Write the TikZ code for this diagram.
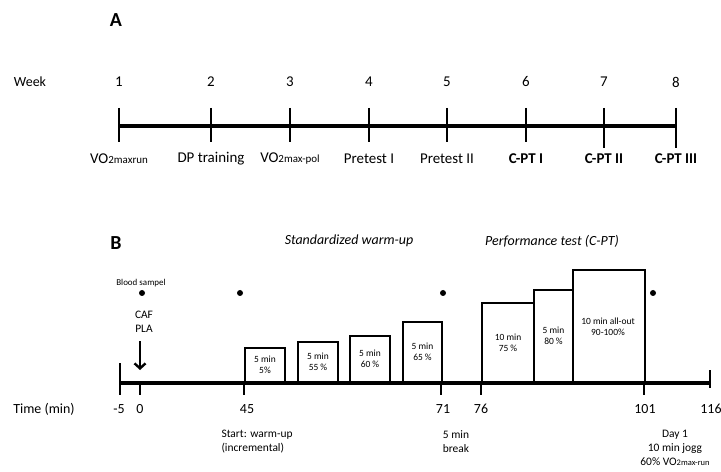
\documentclass[tikz,border=0pt]{standalone}
\usepackage{fontspec}
\setmainfont{Carlito}
\usetikzlibrary{arrows.meta}
\newcommand{\fsz}[1]{\fontsize{#1}{1.2\dimexpr#1pt\relax}\selectfont}

\begin{document}
\begin{tikzpicture}[x=1bp, y=-1bp,
    axisline/.style={line width=3.4bp},
    tickline/.style={line width=2.8bp},
    stagebox/.style={draw, line width=2bp, inner sep=0pt, anchor=south west,
                     align=center, font=\fsz{9.5}},
    weeklbl/.style={font=\fsz{15}},
    timelbl/.style={font=\fsz{14}},
    notelbl/.style={font=\fsz{11.5}, align=center},
    sample/.style={fill, circle, inner sep=0pt, minimum size=6bp}]
  \useasboundingbox (0,0) rectangle (721,472);

  % A: weeks
  \node[font=\bfseries\fsz{20}] (A) at (116,20) {A};
  \node[font=\fsz{14}] (week) at (30,82) {Week};
  \foreach \n/\x/\lab in {1/119/{VO{\fsz{11}2maxrun}}, 2/211/{DP training},
      3/290/{VO{\fsz{11}2max-pol}}, 4/369/{Pretest I}, 5/447/{Pretest II},
      6/526/{\textbf{C-PT I}}, 7/604/{\textbf{C-PT II}}, 8/676/{\textbf{C-PT III}}}
  {
    \node[weeklbl] (n\n) at (\x,82) {\n};
    \coordinate (w\n) at (\x,126);
    \node[weeklbl] (l\n) at (\x,159) {\lab};
  }
  \draw[axisline] (w1) -- (w8);
  \foreach \n/\x in {1/119, 2/211, 3/290, 4/369, 5/447, 6/526}
    \draw[tickline] (\x,108) -- (\x,142);
  \foreach \x in {604, 676}
    \draw[tickline] (\x,108) -- (\x,148);

  % B: test day
  \node[font=\bfseries\fsz{20}] (B) at (116,243) {B};
  \node[font=\itshape\fsz{14}] (wu) at (349,241) {Standardized warm-up};
  \node[font=\itshape\fsz{14}] (pt) at (552,241) {Performance test (C-PT)};
  \node[font=\fsz{9}] (bs) at (141,283) {Blood sampel};
  \foreach \i/\x in {1/142, 2/240, 3/443, 4/653}
    \node[sample] (d\i) at (\x,293) {};
  \node[font=\fsz{11.5}, align=center] (caf) at (144,322) {CAF\\PLA};
  \coordinate (arr) at (140,341);
  \coordinate (t0) at (140,383);
  \draw[line width=2.4bp, -{Straight Barb[length=5bp, width=11bp]}] (arr) -- ([yshift=13bp]t0);

  \coordinate (tm5) at (120,383);
  \coordinate (t116) at (710,383);
  \draw[axisline] (tm5) -- (t116);
  \draw[tickline] (120,363) -- (120,395);
  \draw[tickline] (710,370) -- (710,388);
  \foreach \x in {140, 244, 441, 481, 644}
    \draw[tickline] (\x,383) -- (\x,395);

  % warm-up stages
  \node[stagebox, minimum width=40bp, minimum height=34bp] (s1) at (244,383) {5 min\\5\%};
  \node[stagebox, minimum width=40bp, minimum height=40bp] (s2) at (297,383) {5 min\\55 \%};
  \node[stagebox, minimum width=40bp, minimum height=46bp] (s3) at (349,383) {5 min\\60 \%};
  \node[stagebox, minimum width=39bp, minimum height=60bp] (s4) at (402,383) {5 min\\65 \%};
  % performance test
  \node[stagebox, minimum width=52bp, minimum height=79bp] (p1) at (481,383) {10 min\\75 \%};
  \node[stagebox, minimum width=39bp, minimum height=92bp] (p2) at (533,383) {5 min\\80 \%};
  \node[stagebox, minimum width=72bp, minimum height=112bp] (p3) at (572,383) {};
  \node[font=\fsz{9.5}, align=center] (p3txt) at (608,327) {10 min all-out\\90-100\%};

  % time axis labels
  \node[timelbl] (tl) at (44,409) {Time (min)};
  \foreach \v/\x in {-5/119, 0/140, 45/247, 71/443, 76/481, 101/645, 116/711}
    \node[timelbl] (v\x) at (\x,409) {\v};

  \node[notelbl, align=left, anchor=north west] (start) at (218,427) {Start: warm-up\\(incremental)};
  \node[notelbl, anchor=north] (brk) at (456,427) {5 min\\break};
  \node[notelbl, anchor=north] (day) at (675,427) {Day 1\\10 min jogg\\60\% VO{\fsz{8.5}2max-run}};
\end{tikzpicture}
\end{document}
